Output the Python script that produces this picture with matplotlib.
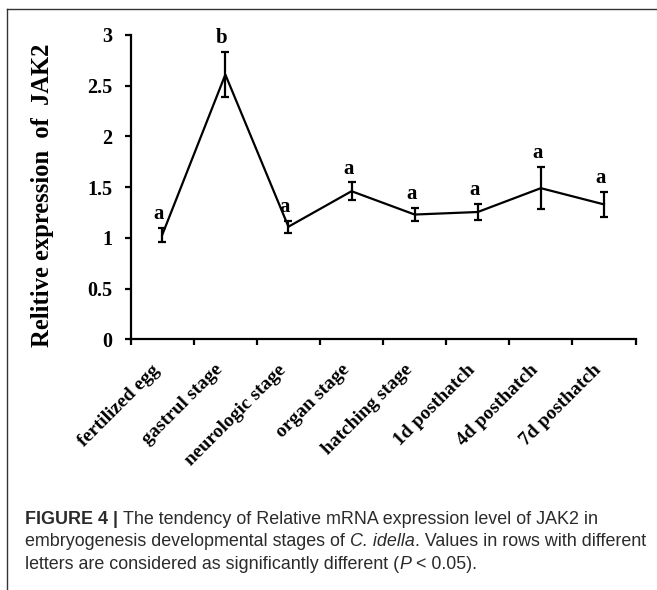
import matplotlib
matplotlib.use("Agg")
import matplotlib.pyplot as plt
from matplotlib.lines import Line2D
from matplotlib.transforms import ScaledTranslation

categories = ["fertilized egg", "gastrul stage", "neurologic stage", "organ stage",
              "hatching stage", "1d posthatch", "4d posthatch", "7d posthatch"]
values = [1.03, 2.61, 1.11, 1.46, 1.23, 1.255, 1.49, 1.33]
errors = [0.07, 0.225, 0.06, 0.09, 0.065, 0.08, 0.21, 0.125]
letters = ["a", "b", "a", "a", "a", "a", "a", "a"]
yticks = [0, 0.5, 1, 1.5, 2, 2.5, 3]
ytick_labels = ["0", "0.5", "1", "1.5", "2", "2.5", "3"]

W, H = 657, 590
fig = plt.figure(figsize=(W / 100, H / 100), dpi=100)

serif = "Liberation Serif"
sans = "Liberation Sans"

ax = fig.add_axes([130.7 / W, 1 - 339.3 / H, (635.5 - 130.7) / W, (339.3 - 35) / H])
x = [i + 0.5 for i in range(len(categories))]
ax.errorbar(x, values, yerr=errors, color="black", lw=1.6, elinewidth=1.6,
            capsize=2.8, capthick=1.6, clip_on=False)
for xi, v, e, l in zip(x, values, errors, letters):
    ax.annotate(l, (xi, v + e), xytext=(-2.5, 2.5), textcoords="offset points",
                ha="center", va="bottom", fontsize=15, fontweight="bold",
                family=serif)

ax.set_xlim(0, len(categories))
ax.set_ylim(0, 3)
ax.set_xticks(range(len(categories) + 1))
ax.set_xticklabels([])
ax.set_xticks(x, minor=True)
ax.set_xticklabels(categories, minor=True, rotation=45, ha="right",
                   rotation_mode="anchor", fontsize=14, fontweight="bold", family=serif)
ax.tick_params(axis="x", which="minor", length=0, pad=13)
ax.tick_params(axis="x", which="major", length=4.5, width=1.6, direction="out")
offset = ScaledTranslation(-11 / 100, -4 / 100, fig.dpi_scale_trans)
for lab in ax.get_xticklabels(minor=True):
    lab.set_transform(lab.get_transform() + offset)
ax.set_yticks(yticks)
ax.set_yticklabels(ytick_labels, fontsize=14.5, fontweight="bold", family=serif)
ax.tick_params(axis="y", length=4, width=1.6, direction="out", pad=9)
for s in ["top", "right"]:
    ax.spines[s].set_visible(False)
for s in ["left", "bottom"]:
    ax.spines[s].set_linewidth(1.6)
ax.set_ylabel("Relitive expression  of  JAK2", fontsize=17.7, fontweight="bold",
              family=serif)
ax.yaxis.set_label_coords(-0.152, 0.474)

# frame
fig.add_artist(Line2D([7 / W, 1], [1 - 9 / H, 1 - 9 / H], transform=fig.transFigure,
                      color="#333333", lw=1))
fig.add_artist(Line2D([7 / W, 7 / W], [1 - 9 / H, 0], transform=fig.transFigure,
                      color="#333333", lw=1))

# caption
cap_color = "#2b2b2b"
cap_size = 12.9
lines = [
    [("FIGURE 4 | ", "bold", "normal"),
     ("The tendency of Relative mRNA expression level of JAK2 in", "normal", "normal")],
    [("embryogenesis developmental stages of ", "normal", "normal"),
     ("C. idella", "normal", "italic"),
     (". Values in rows with different", "normal", "normal")],
    [("letters are considered as significantly different (", "normal", "normal"),
     ("P", "normal", "italic"),
     (" < 0.05).", "normal", "normal")],
]
baselines = [524, 546.5, 569]
fig.canvas.draw()
renderer = fig.canvas.get_renderer()
for pieces, yb in zip(lines, baselines):
    xp = 25
    for txt, wt, st in pieces:
        t = fig.text(xp / W, 1 - yb / H, txt, fontsize=cap_size, fontweight=wt,
                     fontstyle=st, family=sans, color=cap_color, va="baseline",
                     ha="left")
        bb = t.get_window_extent(renderer=renderer)
        xp += bb.width

fig.savefig("out.png", dpi=100)
